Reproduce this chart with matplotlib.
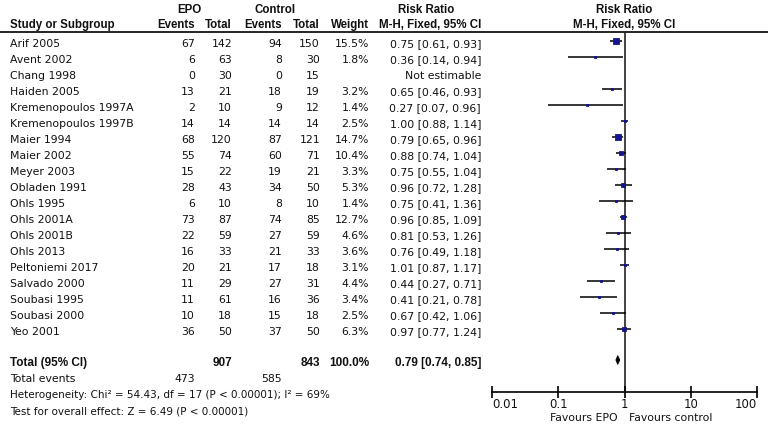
import matplotlib.pyplot as plt
from matplotlib.patches import Polygon

plt.rcParams['font.family'] = ['DejaVu Sans']

W, H = 768, 432

studies = ["Arif 2005", "Avent 2002", "Chang 1998", "Haiden 2005",
           "Kremenopoulos 1997A", "Kremenopoulos 1997B", "Maier 1994",
           "Maier 2002", "Meyer 2003", "Obladen 1991", "Ohls 1995",
           "Ohls 2001A", "Ohls 2001B", "Ohls 2013", "Peltoniemi 2017",
           "Salvado 2000", "Soubasi 1995", "Soubasi 2000", "Yeo 2001"]
epo_events = [67, 6, 0, 13, 2, 14, 68, 55, 15, 28, 6, 73, 22, 16, 20, 11, 11, 10, 36]
epo_total = [142, 63, 30, 21, 10, 14, 120, 74, 22, 43, 10, 87, 59, 33, 21, 29, 61, 18, 50]
ctl_events = [94, 8, 0, 18, 9, 14, 87, 60, 19, 34, 8, 74, 27, 21, 17, 27, 16, 15, 37]
ctl_total = [150, 30, 15, 19, 12, 14, 121, 71, 21, 50, 10, 85, 59, 33, 18, 31, 36, 18, 50]
weights = [15.5, 1.8, None, 3.2, 1.4, 2.5, 14.7, 10.4, 3.3, 5.3, 1.4, 12.7,
           4.6, 3.6, 3.1, 4.4, 3.4, 2.5, 6.3]
rr = [0.75, 0.36, None, 0.65, 0.27, 1.00, 0.79, 0.88, 0.75, 0.96, 0.75, 0.96,
      0.81, 0.76, 1.01, 0.44, 0.41, 0.67, 0.97]
rr_lo = [0.61, 0.14, None, 0.46, 0.07, 0.88, 0.65, 0.74, 0.55, 0.72, 0.41, 0.85,
         0.53, 0.49, 0.87, 0.27, 0.21, 0.42, 0.77]
rr_hi = [0.93, 0.94, None, 0.93, 0.96, 1.14, 0.96, 1.04, 1.04, 1.28, 1.36, 1.09,
         1.26, 1.18, 1.17, 0.71, 0.78, 1.06, 1.24]

total_epo, total_ctl = 907, 843
events_epo, events_ctl = 473, 585
pooled = (0.79, 0.74, 0.85)
heterogeneity = "Heterogeneity: Chi\u00b2 = 54.43, df = 17 (P < 0.00001); I\u00b2 = 69%"
overall = "Test for overall effect: Z = 6.49 (P < 0.00001)"
ticks = [0.01, 0.1, 1, 10, 100]
tick_labels = ["0.01", "0.1", "1", "10", "100"]

FS = 7.8
SQ = "#14148f"

fig = plt.figure(figsize=(W / 100, H / 100), dpi=100)
fig.patch.set_facecolor("white")

# text layer in pixel coordinates
tx = fig.add_axes([0, 0, 1, 1])
tx.set_xlim(0, W)
tx.set_ylim(H, 0)
tx.axis("off")


def put(x, y, s, ha="right", bold=False, fam="DejaVu Sans", size=FS):
    tx.text(x, y, s, ha=ha, va="baseline", fontsize=size, color="#111111",
            fontweight="bold" if bold else "normal", family=fam)


def head(x, y, s, ha="right", size=8.3):
    # bold text in the reference is narrower than DejaVu bold
    put(x, y, s, ha=ha, bold=True, fam="Liberation Sans", size=size)


# column edges
X0 = 10
C_EE, C_ET, C_CE, C_CT, C_W, C_RR = 195, 232, 282, 320, 369, 481

# headers
head(189, 13, "EPO", ha="center")
head(275, 13, "Control", ha="center")
head(426, 13, "Risk Ratio", ha="center")
head(624, 13, "Risk Ratio", ha="center")
head(X0, 28, "Study or Subgroup", ha="left")
head(C_EE, 28, "Events")
head(C_ET, 28, "Total")
head(C_CE, 28, "Events")
head(C_CT, 28, "Total")
head(C_W, 28, "Weight")
head(C_RR, 28, "M-H, Fixed, 95% CI")
head(624, 28, "M-H, Fixed, 95% CI", ha="center")
tx.plot([0, W], [32, 32], color="black", lw=1.2)

rows = [41 + 16 * i for i in range(len(studies))]
for i, y in enumerate(rows):
    b = y + 6
    put(X0, b, studies[i], ha="left")
    put(C_EE, b, str(epo_events[i]))
    put(C_ET, b, str(epo_total[i]))
    put(C_CE, b, str(ctl_events[i]))
    put(C_CT, b, str(ctl_total[i]))
    if weights[i] is None:
        put(C_RR, b, "Not estimable")
    else:
        put(C_W, b, f"{weights[i]:.1f}%")
        put(C_RR, b, f"{rr[i]:.2f} [{rr_lo[i]:.2f}, {rr_hi[i]:.2f}]")

ty = 360
head(X0, ty + 6, "Total (95% CI)", ha="left", size=8.5)
head(C_ET, ty + 6, str(total_epo), size=8.5)
head(C_CT, ty + 6, str(total_ctl), size=8.5)
head(C_W, ty + 6, "100.0%", size=8.5)
head(C_RR, ty + 6, f"{pooled[0]:.2f} [{pooled[1]:.2f}, {pooled[2]:.2f}]",
     size=8.5)
put(X0, 382, "Total events", ha="left")
put(C_EE, 382, str(events_epo))
put(C_CE, 382, str(events_ctl))
put(X0, 398, heterogeneity, ha="left", size=7.5)
put(X0, 414, overall, ha="left", size=7.5)
put(618, 421, "Favours EPO")
put(629, 421, "Favours control", ha="left")

# forest plot axes, y in pixel rows
ax = fig.add_axes([492 / W, 1 - 392 / H, (757 - 492) / W, (392 - 32) / H])
ax.set_facecolor("none")
ax.set_xscale("log")
ax.set_xlim(0.01, 100)
ax.set_ylim(392, 32)
for s in ["left", "top", "right"]:
    ax.spines[s].set_visible(False)
ax.spines["bottom"].set_linewidth(1.2)
ax.set_yticks([])
ax.set_xticks(ticks)
ax.set_xticklabels(tick_labels, fontsize=FS + 0.6, color="#111111")
ax.minorticks_off()
ax.tick_params(axis="x", direction="inout", length=8, width=1.2, pad=0)
labs = ax.get_xticklabels()
labs[0].set_ha("left")
labs[-1].set_ha("right")

ax.axvline(1, color="#222222", lw=1.2, zorder=1)

for i, y in enumerate(rows):
    if rr[i] is None:
        continue
    ax.hlines(y, rr_lo[i], rr_hi[i], color="black", lw=1.1, zorder=2)
    side = max(1.35 * weights[i] ** 0.5, 2.2)
    ax.plot(rr[i], y, marker="s", ms=side * 0.72, color=SQ, mec=SQ,
            mew=0.6, zorder=3)

dh = 4.5
ax.add_patch(Polygon([(pooled[1], ty), (pooled[0], ty - dh),
                      (pooled[2], ty), (pooled[0], ty + dh)],
                     closed=True, facecolor="black", edgecolor="black",
                     lw=0.5, zorder=3))

fig.savefig("out.png", dpi=100, facecolor="white")
